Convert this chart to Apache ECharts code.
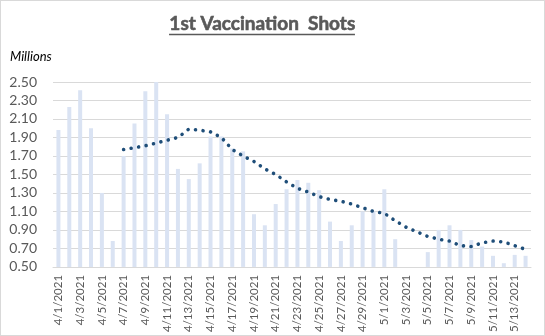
<!DOCTYPE html>
<html><head><meta charset="utf-8">
<script src="https://cdn.jsdelivr.net/npm/echarts@6/dist/echarts.min.js"></script>
<style>html,body{margin:0;padding:0;background:#fff;}#c{width:543px;height:334px;border:1px solid #d9d9d9;}</style>
</head><body><div id="c"></div>
<script>
const categories = ["4/1/2021","4/2/2021","4/3/2021","4/4/2021","4/5/2021","4/6/2021","4/7/2021","4/8/2021","4/9/2021","4/10/2021",
"4/11/2021","4/12/2021","4/13/2021","4/14/2021","4/15/2021","4/16/2021","4/17/2021","4/18/2021","4/19/2021","4/20/2021",
"4/21/2021","4/22/2021","4/23/2021","4/24/2021","4/25/2021","4/26/2021","4/27/2021","4/28/2021","4/29/2021","4/30/2021",
"5/1/2021","5/2/2021","5/3/2021","5/4/2021","5/5/2021","5/6/2021","5/7/2021","5/8/2021","5/9/2021","5/10/2021",
"5/11/2021","5/12/2021","5/13/2021","5/14/2021"];
const dailyShots = [1.98,2.23,2.41,2.00,1.30,0.78,1.70,2.05,2.40,2.50,
2.15,1.56,1.45,1.62,1.91,1.91,1.78,1.75,1.07,0.95,
1.18,1.34,1.44,1.41,1.33,0.99,0.78,0.95,1.10,1.10,
1.34,0.80,null,null,0.66,0.90,0.95,0.90,0.79,0.72,
0.62,0.54,0.63,0.62];
const movingAvg = [null,null,null,null,null,null,1.77,1.79,1.81,1.84,
1.87,1.90,1.99,1.98,1.96,1.90,1.77,1.70,1.64,1.56,
1.50,1.42,1.35,1.31,1.26,1.23,1.21,1.18,1.14,1.10,
1.08,1.00,0.93,0.88,0.83,0.80,0.78,0.73,0.72,0.76,
0.78,0.77,0.73,0.69];
const yTicks = {min:0.5, max:2.5, interval:0.2};
const titleText = '1st Vaccination  Shots';

const chart = echarts.init(document.getElementById('c'), null, {renderer:'canvas'});
const titleFont = 'bold 19px Lato';
const ctx = document.createElement('canvas').getContext('2d');
ctx.font = titleFont;
const w = ctx.measureText(titleText).width;
const x0 = 261 - w/2;
chart.setOption({
  animation:false,
  graphic:[
    {type:'text', left:x0, top:13, style:{text:titleText, font:titleFont, fill:'#595959', stroke:'#595959', lineWidth:0.6}},
    {type:'line', shape:{x1:x0, y1:33.5, x2:x0+w, y2:33.5}, style:{stroke:'#595959', lineWidth:1.5}},
    {type:'text', left:9, top:49, style:{text:'Millions', font:'italic 13px Lato', fill:'#000'}}
  ],
  grid:{left:52, right:13, top:81, bottom:68},
  xAxis:{type:'category', data:categories, boundaryGap:true,
    axisLine:{lineStyle:{color:'#d9d9d9'}},
    axisTick:{interval:1, length:5, lineStyle:{color:'#d9d9d9'}},
    axisLabel:{interval:1, rotate:90, margin:8, fontFamily:'Lato', fontSize:11.5, color:'#595959'}},
  yAxis:{type:'value', min:yTicks.min, max:yTicks.max, interval:yTicks.interval,
    axisLine:{show:false}, axisTick:{show:false},
    splitLine:{lineStyle:{color:'#d9d9d9', width:1}},
    axisLabel:{formatter:v=>v.toFixed(2), fontFamily:'Lato', fontSize:14, color:'#595959', margin:16}},
  series:[
    {type:'bar', data:dailyShots, barWidth:4, itemStyle:{color:'#dae3f3'}},
    {type:'line', data:movingAvg, showSymbol:false, symbol:'none',
      lineStyle:{color:'#1f4e79', width:3.6, type:[0.01,7.6], cap:'round'}}
  ]
});
</script></body></html>
